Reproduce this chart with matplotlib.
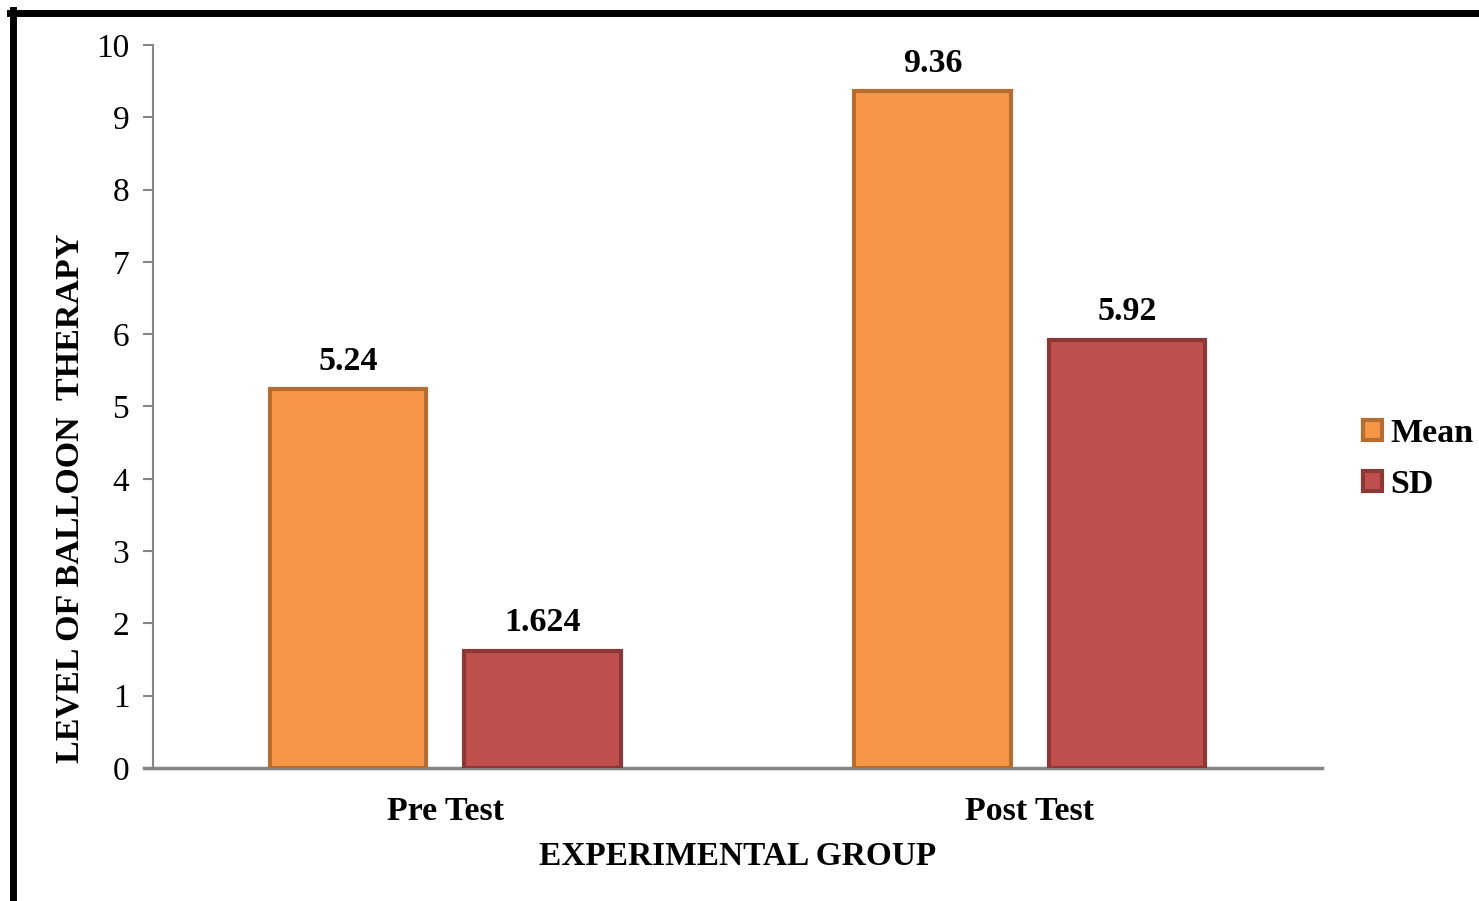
import matplotlib
matplotlib.use("Agg")
import matplotlib.pyplot as plt
import numpy as np
from matplotlib.lines import Line2D

categories = ["Pre Test", "Post Test"]
series_names = ["Mean", "SD"]
mean_vals = [5.24, 9.36]
sd_vals = [1.624, 5.92]
value_labels_mean = ["5.24", "9.36"]
value_labels_sd = ["1.624", "5.92"]

W, H = 1479, 901
fig = plt.figure(figsize=(W / 100, H / 100), dpi=100)
plt.rcParams['font.family'] = ['Liberation Serif', 'DejaVu Serif']

left, right, top, bottom = 153, 1322, 45, 768
ax = fig.add_axes([left / W, (H - bottom) / H, (right - left) / W, (bottom - top) / H])

x = np.arange(len(categories))
bw = 0.268
off = 0.1665
fills = ["#F79646", "#C0504D"]
edges = ["#B66D31", "#8C3836"]
b1 = ax.bar(x - off, mean_vals, bw, color=fills[0], edgecolor=edges[0], linewidth=3, label=series_names[0], zorder=3)
b2 = ax.bar(x + off, sd_vals, bw, color=fills[1], edgecolor=edges[1], linewidth=3, label=series_names[1], zorder=3)

for bars, labs in ((b1, value_labels_mean), (b2, value_labels_sd)):
    for r, t in zip(bars, labs):
        ax.annotate(t, (r.get_x() + r.get_width() / 2, r.get_height()), xytext=(0, 9),
                    textcoords="offset points", ha="center", va="bottom",
                    fontsize=24.5, fontweight="bold")

ax.set_xlim(-0.5, 1.5)
ax.set_ylim(0, 10)
ax.set_yticks(range(0, 11))
ax.tick_params(axis='y', labelsize=24, length=7, width=1.5, color="#868686", pad=10)
ax.tick_params(axis='x', length=0, labelsize=24.5, pad=20)
ax.set_xticks(x)
ax.set_xticklabels(categories, fontweight="bold")
for s in ("top", "right"):
    ax.spines[s].set_visible(False)
ax.spines["left"].set_color("#868686")
ax.spines["bottom"].set_color("#868686")
ax.spines["left"].set_linewidth(1.5)
ax.spines["bottom"].set_linewidth(2.5)
ax.spines["bottom"].set_bounds(-0.5 - 9 / 584.5, 1.5)

ax.set_ylabel("LEVEL OF BALLOON  THERAPY", fontsize=24.5, fontweight="bold")
ax.yaxis.set_label_coords(-(153 - 86) / (right - left), (768 - 498) / (bottom - top))
ax.set_xlabel("EXPERIMENTAL GROUP", fontsize=24, fontweight="bold", labelpad=10)

leg = fig.legend(handles=[b1, b2], labels=series_names, loc="center left",
                 bbox_to_anchor=(1363 / W, 1 - 459 / H), frameon=False, borderpad=0,
                 borderaxespad=0,
                 prop={'size': 24.5, 'weight': 'bold'}, handlelength=0.55, handleheight=0.55,
                 handletextpad=0.25, labelspacing=0.6)

# outer border lines (top and left)
fig.add_artist(Line2D([10 / W, 1.0], [1 - 13 / H, 1 - 13 / H], transform=fig.transFigure, color="black", linewidth=5))
fig.add_artist(Line2D([13 / W, 13 / W], [0, 1 - 10 / H], transform=fig.transFigure, color="black", linewidth=5))

fig.savefig("out.png", dpi=100)
